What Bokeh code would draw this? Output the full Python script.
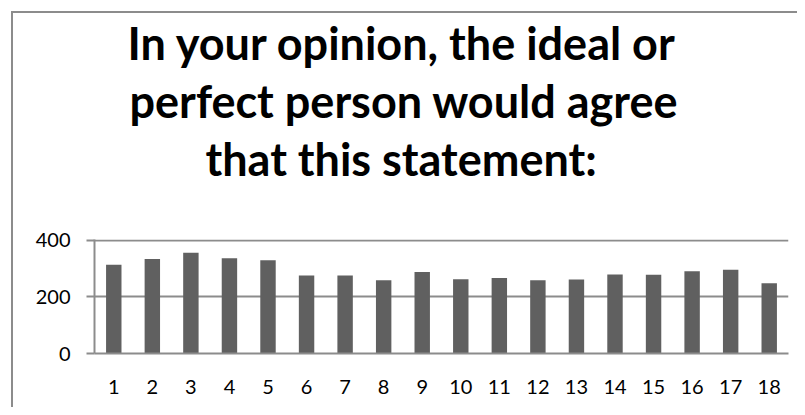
from bokeh.plotting import figure
from bokeh.models import Title, FixedTicker, Range1d
from bokeh.embed import file_html
from bokeh.resources import INLINE

categories = [str(i) for i in range(1, 19)]
values = [313, 333, 355, 336, 329, 275, 275, 258, 287, 262, 266, 258, 261, 279, 278, 290, 295, 248]
y_ticks = [0, 200, 400]
title_lines = ["In your opinion, the ideal or", "perfect person would agree", "that this statement:"]
title_offsets = [33, 35, 111]
title_standoffs = [0, 4, 0]

W, H = 797, 407
FRAME_L, FRAME_R, FRAME_T, FRAME_B = 94, 788, 239, 353

# category slots on a numeric axis: slot i is centred at i + 0.5
xpos = [i + 0.5 for i in range(len(categories))]

p = figure(x_range=Range1d(0, len(categories)), y_range=Range1d(0, 402), width=W, height=H,
           output_backend="svg", toolbar_location=None,
           min_border_left=FRAME_L, min_border_right=W - FRAME_R,
           min_border_top=FRAME_T, min_border_bottom=H - FRAME_B)

p.vbar(x=xpos, top=values, width=0.4, fill_color="#606060", line_color=None)

grid_color = "#8c8c8c"
p.outline_line_color = None
p.border_fill_alpha = 0
p.background_fill_color = "white"
p.styles = {"box-shadow": "inset 11px 11px 0 0 #ffffff, inset 13px 13px 0 0 #8c8c8c",
            "background-color": "white"}

p.xgrid.grid_line_color = None
p.ygrid.grid_line_color = grid_color
p.ygrid.grid_line_width = 2
p.yaxis.ticker = FixedTicker(ticks=y_ticks)

p.yaxis.axis_line_color = grid_color
p.yaxis.axis_line_width = 2
p.yaxis.major_tick_line_color = grid_color
p.yaxis.major_tick_line_width = 2
p.yaxis.major_tick_out = 8
p.yaxis.major_tick_in = 0
p.yaxis.minor_tick_line_color = None
p.yaxis.major_label_standoff = 16
p.yaxis.major_label_text_font = "Lato"
p.yaxis.major_label_text_font_size = "20px"
p.yaxis.major_label_text_color = "black"

p.xaxis.ticker = FixedTicker(ticks=xpos)
p.xaxis.major_label_overrides = {x: c for x, c in zip(xpos, categories)}
p.xaxis.axis_line_color = grid_color
p.xaxis.axis_line_width = 2
p.xaxis.major_tick_line_color = None
p.xaxis.minor_tick_line_color = None
p.xaxis.major_label_standoff = 20
p.xaxis.major_label_text_font = "Lato"
p.xaxis.major_label_text_font_size = "20px"
p.xaxis.major_label_text_color = "black"

# add bottom line first: later titles stack further above.
# The last line carries a trailing newline so that an empty line leaves
# the gap between the title block and the plot area.
n = len(title_lines)
for i in reversed(range(n)):
    text = title_lines[i] + ("\n" if i == n - 1 else "")
    p.add_layout(Title(text=text, align="left", offset=title_offsets[i], text_font="Lato",
                       text_font_style="bold", text_font_size="45px",
                       text_color="black", standoff=title_standoffs[i]), "above")

open("out.html", "w").write(file_html(p, INLINE))
